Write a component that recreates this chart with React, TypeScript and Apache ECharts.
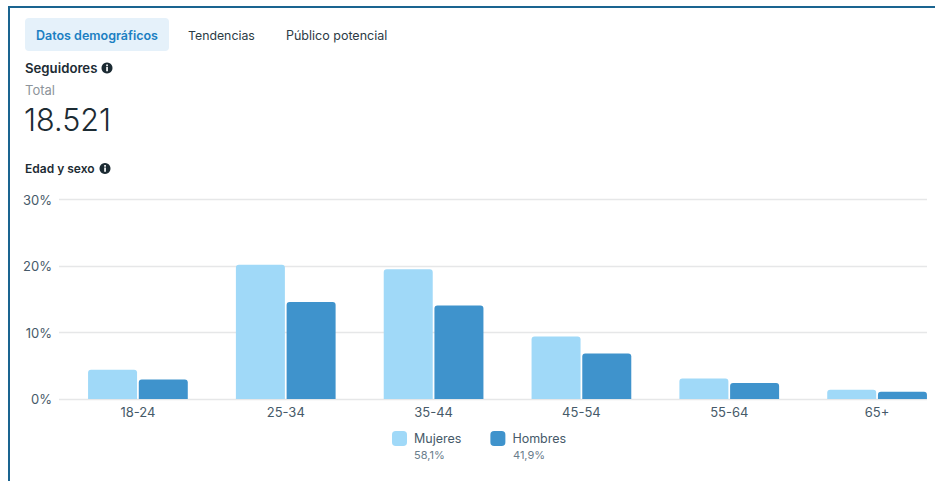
import React, { useEffect, useRef } from "react";
import * as echarts from "echarts";

const ageGroups = ["18-24", "25-34", "35-44", "45-54", "55-64", "65+"];
const women = [4.4, 20.2, 19.5, 9.4, 3.1, 1.4];
const men = [2.95, 14.6, 14.05, 6.85, 2.4, 1.1];
const seriesNames = ["Mujeres", "Hombres"];
const seriesShares = ["58,1%", "41,9%"];
const tabs = ["Datos demográficos", "Tendencias", "Público potencial"];
const totalFollowers = "18.521";

const FONT = "Inter, 'Noto Sans', sans-serif";
const INK = "#1c2b33";
const MUTED = "#465a69";
const LIGHT = "#a0d9f8";
const DARK = "#3f93cc";

function infoIcon(cx: number, cy: number) {
  return {
    type: "group",
    silent: true,
    children: [
      { type: "circle", shape: { cx, cy, r: 5.5 }, style: { fill: INK } },
      { type: "rect", shape: { x: cx - 0.8, y: cy - 3.4, width: 1.7, height: 1.7 }, style: { fill: "#fff" } },
      { type: "rect", shape: { x: cx - 0.8, y: cy - 0.9, width: 1.7, height: 4.2 }, style: { fill: "#fff" } },
    ],
  };
}

function label(x: number, y: number, text: string, size: number, weight: number, fill: string) {
  return {
    type: "text",
    x,
    y,
    silent: true,
    style: { text, fill, fontSize: size, fontWeight: weight, fontFamily: FONT, verticalAlign: "middle" },
  };
}

export default function App() {
  const ref = useRef<HTMLDivElement>(null);
  useEffect(() => {
    const chart = echarts.init(ref.current!, undefined, { renderer: "svg" });
    chart.setOption({
      animation: false,
      backgroundColor: "#ffffff",
      textStyle: { fontFamily: FONT },
      grid: [
        { left: 59, top: 199.5, width: 868, height: 199.5, outerBoundsMode: "none" },
        { left: 64, top: 199.5, width: 887, height: 199.5, outerBoundsMode: "none" },
      ],
      xAxis: [
        { type: "category", gridIndex: 0, data: ageGroups, show: false },
        {
          type: "category",
          gridIndex: 1,
          data: ageGroups,
          axisLine: { show: false },
          axisTick: { show: false },
          axisLabel: { color: MUTED, fontSize: 13, fontFamily: FONT, margin: 6 },
        },
      ],
      yAxis: [
        {
          type: "value",
          gridIndex: 0,
          min: 0,
          max: 30,
          interval: 10,
          axisLine: { show: false },
          axisTick: { show: false },
          axisLabel: { color: MUTED, fontSize: 13, fontFamily: FONT, margin: 7, formatter: "{value}%" },
          splitLine: { lineStyle: { color: "#e6e7e8", width: 1.4 } },
        },
        { type: "value", gridIndex: 1, min: 0, max: 30, interval: 10, show: false },
      ],
      legend: {
        left: 392,
        top: 431,
        padding: 0,
        icon: "roundRect",
        itemWidth: 15,
        itemHeight: 15,
        itemGap: 29,
        selectedMode: false,
        data: seriesNames,
        textStyle: { color: MUTED, fontSize: 12.5, fontFamily: FONT, padding: [0, 0, 0, 2] },
      },
      series: [
        {
          name: seriesNames[0],
          type: "bar",
          xAxisIndex: 1,
          yAxisIndex: 1,
          data: women,
          barWidth: 49,
          barGap: "3.5%",
          itemStyle: { color: LIGHT, borderRadius: [3, 3, 0, 0] },
        },
        {
          name: seriesNames[1],
          type: "bar",
          xAxisIndex: 1,
          yAxisIndex: 1,
          data: men,
          barWidth: 49,
          itemStyle: { color: DARK, borderRadius: [3, 3, 0, 0] },
        },
      ],
      graphic: [
        { type: "rect", silent: true, shape: { x: 8, y: 6, width: 927, height: 2 }, style: { fill: "#1a6490" } },
        { type: "rect", silent: true, shape: { x: 8, y: 6, width: 2, height: 475 }, style: { fill: "#1a6490" } },
        { type: "rect", silent: true, shape: { x: 25, y: 18, width: 144, height: 33, r: 4 }, style: { fill: "#e5f1fa" } },
        label(36, 35, tabs[0], 12.5, 600, "#1b7fc2"),
        label(188, 35, tabs[1], 12.3, 400, "#2c3b45"),
        label(286, 35, tabs[2], 12.5, 400, "#2c3b45"),
        label(25, 68, "Seguidores", 13.2, 600, INK),
        infoIcon(107, 68),
        label(25, 90, "Total", 13, 400, "#8d949b"),
        label(24, 119.5, totalFollowers, 30.5, 300, INK),
        label(25, 168.5, "Edad y sexo", 12, 600, INK),
        infoIcon(105, 168.5),
        label(414, 455, seriesShares[0], 11, 400, "#6a7d8c"),
        label(513, 455, seriesShares[1], 11, 400, "#6a7d8c"),
      ],
    });
    return () => chart.dispose();
  }, []);
  return <div ref={ref} style={{ position: "absolute", left: 0, top: 0, width: 935, height: 481 }} />;
}
